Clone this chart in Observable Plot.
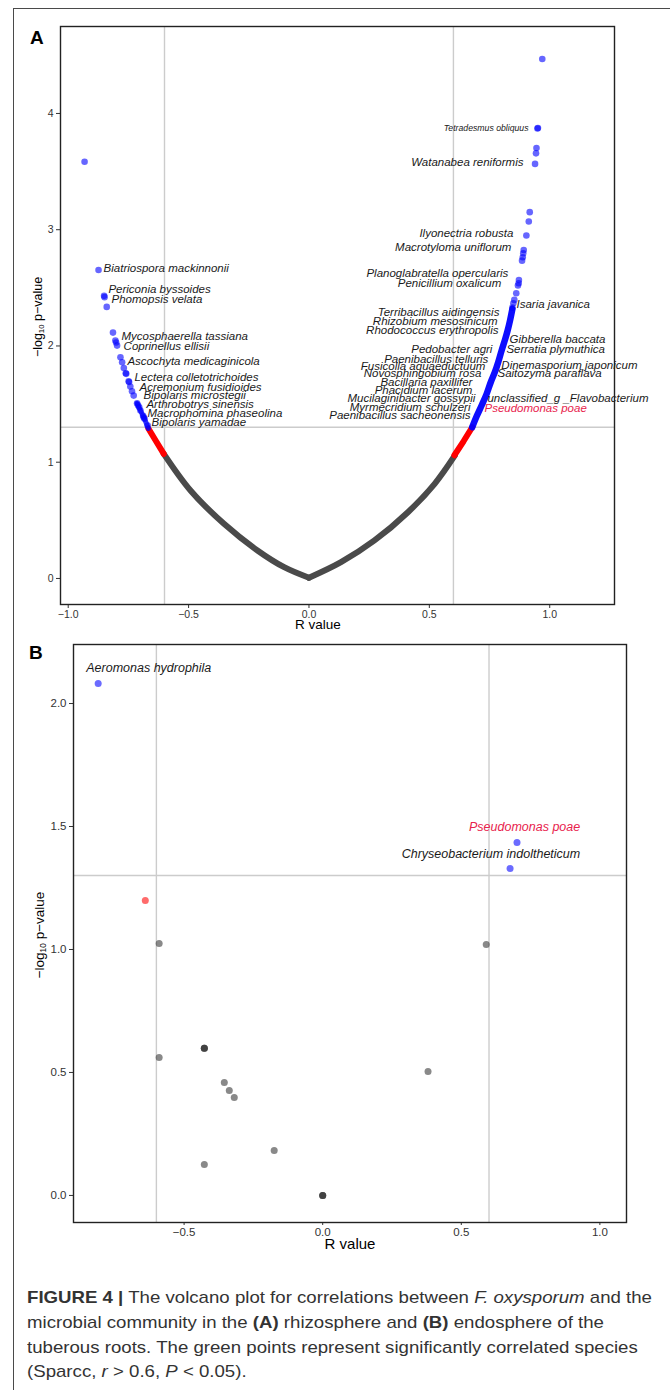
<!DOCTYPE html>
<html><head><meta charset="utf-8">
<script src="https://cdn.jsdelivr.net/npm/d3@7"></script>
<script src="https://cdn.jsdelivr.net/npm/@observablehq/plot@0.6"></script>
<style>
html,body{margin:0;padding:0;background:#fff;}
body{width:670px;height:1390px;position:relative;overflow:hidden;font-family:"Liberation Sans",Arial,Helvetica,sans-serif;}
.abs{position:absolute;}
#ftop{left:13px;top:8px;width:657px;height:0;border-top:1.5px solid #4a4a4a;}
#fleft{left:13px;top:8px;width:0;height:1382px;border-left:1.5px solid #4a4a4a;}
.letter{font-weight:bold;font-size:19px;color:#000;line-height:1;}
.ytitle{white-space:nowrap;transform:translate(-50%,-50%) rotate(-90deg);color:#000;line-height:1;}
.ytitle sub{font-size:0.62em;vertical-align:-0.25em;}
.xtitle{white-space:nowrap;transform:translate(-50%,-50%);color:#000;line-height:1;}
.cap{white-space:nowrap;font-size:17px;line-height:1;color:#333;transform-origin:0 50%;font-family:"Liberation Sans Narrow","Liberation Sans",Arial,sans-serif;}
</style></head>
<body>
<div id="ftop" class="abs"></div>
<div id="fleft" class="abs"></div>
<div id="a" class="abs" style="left:0;top:0;"></div>
<div id="b" class="abs" style="left:0;top:630px;"></div>
<div class="abs letter" style="left:30px;top:28px;">A</div>
<div class="abs letter" style="left:29px;top:643px;">B</div>
<div class="abs ytitle" style="left:39px;top:317px;font-size:12.5px;">−log<sub>10</sub> p−value</div>
<div class="abs ytitle" style="left:40px;top:935px;font-size:13.5px;">−log<sub>10</sub> p−value</div>
<div class="abs xtitle" style="left:318px;top:625px;font-size:13.5px;">R value</div>
<div class="abs xtitle" style="left:350px;top:1243px;font-size:15px;">R value</div>
<div id="caption"></div>
<script>
// ---------------- Panel A data (rhizosphere) ----------------
// non-significant band (gray)
const grayLeftR  = [0, -0.103, -0.214, -0.353, -0.492, -0.603];
const grayLeftY  = [0.006, 0.097, 0.241, 0.470, 0.757, 1.072];
const grayRightR = [0, 0.133, 0.272, 0.411, 0.522, 0.606];
const grayRightY = [0.006, 0.140, 0.327, 0.570, 0.814, 1.058];
// |r| > 0.6 but p > 0.05 (red)
const redLeftR  = [-0.603, -0.635, -0.667];
const redLeftY  = [1.072, 1.180, 1.290];
const redRightR = [0.604, 0.642, 0.678];
const redRightY = [1.060, 1.180, 1.301];
// dense significant band (blue)
const blueRightR = [0.678, 0.696, 0.717, 0.738, 0.755, 0.772, 0.786, 0.800, 0.814, 0.825, 0.835, 0.845];
const blueRightY = [1.301, 1.393, 1.488, 1.588, 1.688, 1.774, 1.860, 1.960, 2.052, 2.132, 2.218, 2.319];
const blueLeftR  = [-0.667, -0.683, -0.700, -0.714];
const blueLeftY  = [1.290, 1.373, 1.445, 1.507];
// individual significant points
const dotAR = [-0.932,-0.874,-0.851,-0.849,-0.840,-0.814,-0.804,-0.801,-0.797,-0.783,-0.776,-0.769,-0.761,-0.759,-0.749,-0.747,-0.742,-0.735,-0.728,-0.714,-0.710,-0.705,-0.700,-0.689,-0.686,-0.683,-0.670,
  0.969,0.951,0.949,0.945,0.943,0.939,0.917,0.913,0.903,0.892,0.890,0.888,0.885,0.872,0.871,0.868,0.861,0.853,0.849,0.845];
const dotAY = [3.585,2.654,2.431,2.420,2.336,2.115,2.046,2.030,2.003,1.903,1.860,1.810,1.765,1.760,1.697,1.690,1.651,1.610,1.573,1.507,1.490,1.473,1.445,1.400,1.385,1.373,1.316,
  4.468,3.875,3.870,3.703,3.657,3.566,3.151,3.071,2.950,2.826,2.797,2.763,2.734,2.568,2.539,2.520,2.453,2.396,2.367,2.330];
// species labels (panel A)
const labelAName = ["Biatriospora mackinnonii","Periconia byssoides","Phomopsis velata","Mycosphaerella tassiana","Coprinellus ellisii","Ascochyta medicaginicola","Lectera colletotrichoides","Acremonium fusidioides","Bipolaris microstegii","Arthrobotrys sinensis","Macrophomina phaseolina","Bipolaris yamadae",
  "Watanabea reniformis","Ilyonectria robusta","Macrotyloma uniflorum","Planoglabratella opercularis","Penicillium oxalicum","Isaria javanica","Terribacillus aidingensis","Rhizobium mesosinicum","Rhodococcus erythropolis","Gibberella baccata","Pedobacter agri","Serratia plymuthica","Paenibacillus telluris","Fusicolla aquaeductuum","Dinemasporium japonicum","Novosphingobium rosa","Saitozyma paraflava","Bacillaria paxillifer","Phacidium lacerum","Mucilaginibacter gossypii","unclassified_g _Flavobacterium","Myrmecridium schulzeri","Paenibacillus sacheonensis"];
const labelAR = [-0.853,-0.833,-0.820,-0.779,-0.770,-0.754,-0.725,-0.704,-0.687,-0.675,-0.671,-0.654,
  0.891,0.849,0.841,0.828,0.799,0.862,0.791,0.783,0.787,0.833,0.762,0.820,0.745,0.733,0.799,0.716,0.783,0.679,0.679,0.691,0.741,0.671,0.671];
const labelAY = [2.667,2.486,2.400,2.082,1.996,1.867,1.729,1.643,1.574,1.497,1.419,1.342,
  3.578,2.968,2.847,2.624,2.538,2.357,2.288,2.211,2.133,2.056,1.970,1.970,1.884,1.824,1.832,1.763,1.763,1.686,1.617,1.548,1.548,1.471,1.402];
const labelAAnchor = ["start","start","start","start","start","start","start","start","start","start","start","start",
  "end","end","end","end","end","start","end","end","end","start","end","start","end","end","start","end","start","end","end","end","start","end","end"];
const smallLabelA = {name: "Tetradesmus obliquus", r: 0.912, y: 3.871};
const highlightA  = {name: "Pseudomonas poae", r: 0.729, y: 1.462};

// ---------------- Panel B data (endosphere) ----------------
const bR = [-0.810,-0.640,-0.590,-0.590,-0.427,-0.427,-0.427,-0.355,-0.337,-0.319,-0.175,-0.427,0,0,0,0.380,0.590,0.701,0.676];
const bY = [2.081,1.199,1.024,0.561,0.598,0.598,0.598,0.459,0.427,0.398,0.183,0.126,0,0,0,0.504,1.020,1.435,1.329];
const bGroup = ["sig","near","ns","ns","ns","ns","ns","ns","ns","ns","ns","ns","ns","ns","ns","ns","ns","sig","sig"];
const labelBName = ["Aeromonas hydrophila","Pseudomonas poae","Chryseobacterium indoltheticum"];
const labelBR = [-0.853, 0.929, 0.929];
const labelBY = [2.146, 1.496, 1.390];
const labelBAnchor = ["start","end","end"];
const labelBHighlight = [false, true, false];

const ticksAX = [-1, -0.5, 0, 0.5, 1];
const ticksAY = [0, 1, 2, 3, 4];
const ticksBX = [-0.5, 0, 0.5, 1];
const ticksBY = [0, 0.5, 1, 1.5, 2];

// ---------------- drawing ----------------
const BLUE = "#0000ff", RED = "#ff0000", GRAY = "#4a4a4a", GRID = "#cccccc", HL = "#e8234d";
const f1 = d3.format(".1f");
const pts = (rs, ys) => rs.map((r, i) => ({r, y: ys[i]}));
const idx = n => d3.range(n);

const iA = idx(labelAName.length);
const plotA = Plot.plot({
  width: 670, height: 640,
  marginLeft: 60, marginRight: 56, marginTop: 26, marginBottom: 36,
  style: {fontFamily: "Liberation Sans, Arial, sans-serif", fontSize: "10.5px", color: "#333", background: "transparent"},
  x: {domain: [-1.032, 1.269], ticks: ticksAX, tickFormat: f1, tickSize: 4, tickPadding: 2, label: null},
  y: {domain: [-0.224, 4.748], ticks: ticksAY, tickFormat: d3.format("d"), tickSize: 4, tickPadding: 3, label: null},
  marks: [
    Plot.ruleX([-0.6, 0.6], {stroke: GRID, strokeWidth: 1.4}),
    Plot.ruleY([1.301], {stroke: GRID, strokeWidth: 1.4}),
    Plot.line(pts(grayLeftR, grayLeftY), {x: "r", y: "y", stroke: GRAY, strokeWidth: 6, curve: "catmull-rom"}),
    Plot.line(pts(grayRightR, grayRightY), {x: "r", y: "y", stroke: GRAY, strokeWidth: 6, curve: "catmull-rom"}),
    Plot.line(pts(redLeftR, redLeftY), {x: "r", y: "y", stroke: RED, strokeWidth: 6}),
    Plot.line(pts(redRightR, redRightY), {x: "r", y: "y", stroke: RED, strokeWidth: 6}),
    Plot.line(pts(blueLeftR, blueLeftY), {x: "r", y: "y", stroke: BLUE, strokeWidth: 5, strokeOpacity: 0.8}),
    Plot.line(pts(blueRightR, blueRightY), {x: "r", y: "y", stroke: BLUE, strokeWidth: 6.5, strokeOpacity: 0.95, curve: "catmull-rom"}),
    Plot.dot(pts(dotAR, dotAY), {x: "r", y: "y", r: 3.3, fill: BLUE, fillOpacity: 0.6, stroke: "none"}),
    Plot.text(iA.filter(i => labelAAnchor[i] === "start"), {x: i => labelAR[i], y: i => labelAY[i], text: i => labelAName[i], textAnchor: "start", fontStyle: "italic", fontSize: 11.5, fill: "#1a1a1a"}),
    Plot.text(iA.filter(i => labelAAnchor[i] === "end"), {x: i => labelAR[i], y: i => labelAY[i], text: i => labelAName[i], textAnchor: "end", fontStyle: "italic", fontSize: 11.5, fill: "#1a1a1a"}),
    Plot.text([smallLabelA], {x: "r", y: "y", text: "name", textAnchor: "end", fontStyle: "italic", fontSize: 8.7, fill: "#1a1a1a"}),
    Plot.text([highlightA], {x: "r", y: "y", text: "name", textAnchor: "start", fontStyle: "italic", fontSize: 11.5, fill: HL}),
    Plot.frame({stroke: "#222", strokeWidth: 1.4})
  ]
});
document.getElementById("a").append(plotA);

const dataB = bR.map((r, i) => ({r, y: bY[i], g: bGroup[i]}));
const iB = idx(labelBName.length);
const plotB = Plot.plot({
  width: 670, height: 622,
  marginLeft: 73, marginRight: 44, marginTop: 14, marginBottom: 30,
  style: {fontFamily: "Liberation Sans, Arial, sans-serif", fontSize: "11.5px", color: "#333", background: "transparent"},
  x: {domain: [-0.899, 1.096], ticks: ticksBX, tickFormat: f1, tickSize: 3, tickPadding: 2, label: null},
  y: {domain: [-0.110, 2.240], ticks: ticksBY, tickFormat: f1, tickSize: 4, tickPadding: 3, label: null},
  color: {domain: ["sig", "near", "ns"], range: [BLUE, RED, "#333333"]},
  marks: [
    Plot.ruleX([-0.6, 0.6], {stroke: GRID, strokeWidth: 1.4}),
    Plot.ruleY([1.301], {stroke: GRID, strokeWidth: 1.4}),
    Plot.dot(dataB, {x: "r", y: "y", r: 3.5, fill: "g", fillOpacity: 0.58, stroke: "none"}),
    Plot.text(iB.filter(i => labelBAnchor[i] === "start"), {x: i => labelBR[i], y: i => labelBY[i], text: i => labelBName[i], textAnchor: "start", fontStyle: "italic", fontSize: 12.5, fill: i => labelBHighlight[i] ? HL : "#1a1a1a"}),
    Plot.text(iB.filter(i => labelBAnchor[i] === "end"), {x: i => labelBR[i], y: i => labelBY[i], text: i => labelBName[i], textAnchor: "end", fontStyle: "italic", fontSize: 12.5, fill: i => labelBHighlight[i] ? HL : "#1a1a1a"}),
    Plot.frame({stroke: "#222", strokeWidth: 1.4})
  ]
});
document.getElementById("b").append(plotB);

// ---------------- caption ----------------
const captionLines = [
  '<b>FIGURE 4 |</b> The volcano plot for correlations between <i>F. oxysporum</i> and the',
  'microbial community in the <b>(A)</b> rhizosphere and <b>(B)</b> endosphere of the',
  'tuberous roots. The green points represent significantly correlated species',
  '(Sparcc, <i>r</i> &gt; 0.6, <i>P</i> &lt; 0.05).'
];
const captionY = [1297, 1322, 1347, 1371];
const cap = document.getElementById("caption");
const divs = captionLines.map((html, i) => {
  const d = document.createElement("div");
  d.className = "abs cap";
  d.style.left = "27px";
  d.style.top = (captionY[i] - 8.5) + "px";
  d.innerHTML = html;
  cap.append(d);
  return d;
});
const w0 = divs[0].getBoundingClientRect().width;
const sx = 625 / w0;
divs.forEach(d => d.style.transform = `scaleX(${sx})`);
</script>
</body></html>
